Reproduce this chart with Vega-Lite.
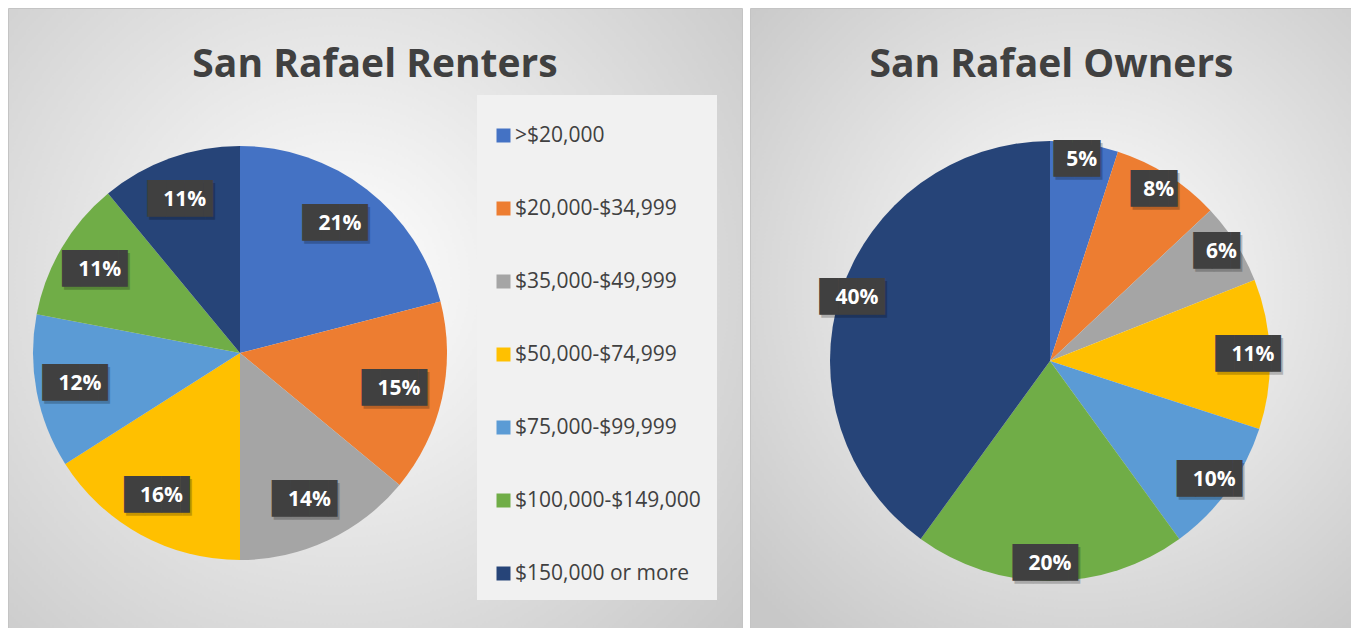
{
  "$schema": "https://vega.github.io/schema/vega-lite/v6.json",
  "padding": {"left": 7, "top": 7, "right": 0, "bottom": 0},
  "background": "#ffffff",
  "spacing": 6,
  "data": {
    "values": [
      {"group": "Renters", "income": ">$20,000", "k": 1, "share": 0.21},
      {"group": "Renters", "income": "$20,000-$34,999", "k": 2, "share": 0.15},
      {"group": "Renters", "income": "$35,000-$49,999", "k": 3, "share": 0.14},
      {"group": "Renters", "income": "$50,000-$74,999", "k": 4, "share": 0.16},
      {"group": "Renters", "income": "$75,000-$99,999", "k": 5, "share": 0.12},
      {"group": "Renters", "income": "$100,000-$149,000", "k": 6, "share": 0.11},
      {"group": "Renters", "income": "$150,000 or more", "k": 7, "share": 0.11},
      {"group": "Owners", "income": ">$20,000", "k": 1, "share": 0.05},
      {"group": "Owners", "income": "$20,000-$34,999", "k": 2, "share": 0.08},
      {"group": "Owners", "income": "$35,000-$49,999", "k": 3, "share": 0.06},
      {"group": "Owners", "income": "$50,000-$74,999", "k": 4, "share": 0.11},
      {"group": "Owners", "income": "$75,000-$99,999", "k": 5, "share": 0.10},
      {"group": "Owners", "income": "$100,000-$149,000", "k": 6, "share": 0.20},
      {"group": "Owners", "income": "$150,000 or more", "k": 7, "share": 0.40}
    ]
  },
  "resolve": {"scale": {"color": "independent"}, "legend": {"color": "independent"}},
  "config": {
    "view": {"stroke": null},
    "title": {"font": "Open Sans", "fontWeight": "bold", "fontSize": 39, "color": "#404040", "anchor": "middle", "baseline": "alphabetic", "frame": "group", "offset": -77}
  },
  "hconcat": [
    {
      "width": 734,
      "height": 620,
      "view": {
        "stroke": "#c4c4c4",
        "fill": {"gradient": "radial", "x1": 0.45, "y1": 0.45, "r1": 0, "x2": 0.45, "y2": 0.45, "r2": 0.72,
          "stops": [{"offset": 0, "color": "#ffffff"}, {"offset": 1, "color": "#c8c8c8"}]}
      },
      "title": {"text": "San Rafael Renters"},
      "transform": [{"filter": "datum.group === 'Renters'"}],
      "encoding": {
        "theta": {"field": "share", "type": "quantitative", "stack": true},
        "order": {"field": "k", "type": "quantitative"}
      },
      "layer": [
        {
          "mark": {"type": "arc", "x": 232, "y": 345, "outerRadius": 207},
          "encoding": {
            "color": {
              "field": "income", "type": "nominal",
              "scale": {
                "domain": [">$20,000", "$20,000-$34,999", "$35,000-$49,999", "$50,000-$74,999", "$75,000-$99,999", "$100,000-$149,000", "$150,000 or more"],
                "range": ["#4472C4", "#ED7D31", "#A5A5A5", "#FFC000", "#5B9BD5", "#70AD47", "#264478"]
              },
              "legend": {
                "orient": "none", "legendX": 469, "legendY": 87, "title": " ",
                "titleFontSize": 10, "titlePadding": 4,
                "symbolType": "square", "symbolSize": 196, "symbolStrokeWidth": 0,
                "labelFont": "Open Sans", "labelFontSize": 21, "labelColor": "#404040",
                "labelOffset": 1, "labelLimit": 300, "rowPadding": 51, "padding": 16,
                "fillColor": "#f1f1f1"
              }
            }
          }
        },
        {
          "mark": {"type": "text", "x": 234, "y": 348, "radius": 163, "font": "DejaVu Sans Mono", "fontSize": 31, "color": "#000000", "opacity": 0.22, "baseline": "middle", "align": "center"},
          "encoding": {
            "detail": {"field": "income"},
            "text": {"condition": {"test": "datum.share < 0.095", "value": "██▌"}, "value": "███▌"}
          }
        },
        {
          "mark": {"type": "text", "x": 232, "y": 345, "radius": 163, "font": "DejaVu Sans Mono", "fontSize": 31, "color": "#404040", "baseline": "middle", "align": "center"},
          "encoding": {
            "detail": {"field": "income"},
            "text": {"condition": {"test": "datum.share < 0.095", "value": "██▌"}, "value": "███▌"}
          }
        },
        {
          "mark": {"type": "text", "x": 232, "y": 345, "radius": 163, "font": "Open Sans", "fontWeight": "bold", "fontSize": 21, "color": "#ffffff", "baseline": "middle", "align": "center"},
          "encoding": {
            "detail": {"field": "income"},
            "text": {"field": "share", "type": "quantitative", "format": ".0%"}
          }
        }
      ]
    },
    {
      "width": 603,
      "height": 620,
      "view": {
        "stroke": "#c4c4c4",
        "fill": {"gradient": "radial", "x1": 0.55, "y1": 0.45, "r1": 0, "x2": 0.55, "y2": 0.45, "r2": 0.72,
          "stops": [{"offset": 0, "color": "#ffffff"}, {"offset": 1, "color": "#c8c8c8"}]}
      },
      "title": {"text": "San Rafael Owners"},
      "transform": [{"filter": "datum.group === 'Owners'"}],
      "encoding": {
        "theta": {"field": "share", "type": "quantitative", "stack": true},
        "order": {"field": "k", "type": "quantitative"}
      },
      "layer": [
        {
          "mark": {"type": "arc", "x": 300, "y": 353, "outerRadius": 220},
          "encoding": {
            "color": {
              "field": "income", "type": "nominal",
              "scale": {
                "domain": [">$20,000", "$20,000-$34,999", "$35,000-$49,999", "$50,000-$74,999", "$75,000-$99,999", "$100,000-$149,000", "$150,000 or more"],
                "range": ["#4472C4", "#ED7D31", "#A5A5A5", "#FFC000", "#5B9BD5", "#70AD47", "#264478"]
              },
              "legend": null
            }
          }
        },
        {
          "mark": {"type": "text", "x": 302, "y": 356, "radius": 203, "font": "DejaVu Sans Mono", "fontSize": 31, "color": "#000000", "opacity": 0.22, "baseline": "middle", "align": "center"},
          "encoding": {
            "detail": {"field": "income"},
            "text": {"condition": {"test": "datum.share < 0.095", "value": "██▌"}, "value": "███▌"}
          }
        },
        {
          "mark": {"type": "text", "x": 300, "y": 353, "radius": 203, "font": "DejaVu Sans Mono", "fontSize": 31, "color": "#404040", "baseline": "middle", "align": "center"},
          "encoding": {
            "detail": {"field": "income"},
            "text": {"condition": {"test": "datum.share < 0.095", "value": "██▌"}, "value": "███▌"}
          }
        },
        {
          "mark": {"type": "text", "x": 300, "y": 353, "radius": 203, "font": "Open Sans", "fontWeight": "bold", "fontSize": 21, "color": "#ffffff", "baseline": "middle", "align": "center"},
          "encoding": {
            "detail": {"field": "income"},
            "text": {"field": "share", "type": "quantitative", "format": ".0%"}
          }
        }
      ]
    }
  ]
}
